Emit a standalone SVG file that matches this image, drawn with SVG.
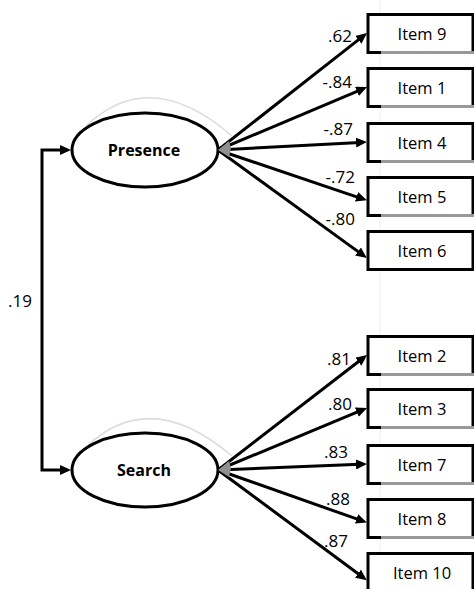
<svg xmlns="http://www.w3.org/2000/svg" width="474" height="589" viewBox="0 0 474 589">
<defs>
<style>
.box{fill:#fff;stroke:#000;stroke-width:3}
.lat{fill:#fff;stroke:#000;stroke-width:3}
.it{font-family:"Open Sans","Liberation Sans",sans-serif;font-size:16.5px;fill:#000;text-anchor:middle}
.lt{font-family:"Open Sans","Liberation Sans",sans-serif;font-size:16px;font-weight:bold;fill:#000;text-anchor:middle}
.lb{font-family:"Open Sans","Liberation Sans",sans-serif;font-size:17px;fill:#000;text-anchor:end}
.arr{fill:none;stroke:#000;stroke-width:3;marker-end:url(#ah)}
.arc{fill:none;stroke:#dcdcdc;stroke-width:1.5}
.gb{stroke:#999;stroke-width:3}
</style>
<marker id="ah" markerUnits="userSpaceOnUse" markerWidth="11" markerHeight="10" refX="4" refY="5" orient="auto-start-reverse">
<path d="M0,0 L11,5 L0,10 Z" fill="#000"/>
</marker>
</defs>
<rect width="474" height="589" fill="#fff"/>
<line x1="380" y1="0" x2="380" y2="589" stroke="#eeeeee" stroke-width="1"/>

<g id="presence">
<path class="arc" d="M86,126 Q150,65 232,136"/>
<ellipse class="lat" cx="145" cy="150" rx="73" ry="37"/>
<text class="lt" x="144" y="155.5">Presence</text>
</g>
<g id="search">
<path class="arc" d="M86,447 Q150,386 232,456"/>
<ellipse class="lat" cx="145" cy="470" rx="73" ry="37"/>
<text class="lt" x="144" y="476">Search</text>
</g>

<g id="item9"><rect class="box" x="368" y="14.5" width="105" height="38"/><line class="gb" x1="381" y1="52.5" x2="474" y2="52.5"/><text class="it" x="422" y="40">Item 9</text></g>
<g id="item1"><rect class="box" x="368" y="68.5" width="105" height="38"/><line class="gb" x1="381" y1="106.5" x2="474" y2="106.5"/><text class="it" x="422" y="94">Item 1</text></g>
<g id="item4"><rect class="box" x="368" y="123.5" width="105" height="38"/><line class="gb" x1="381" y1="161.5" x2="474" y2="161.5"/><text class="it" x="422" y="149">Item 4</text></g>
<g id="item5"><rect class="box" x="368" y="177.5" width="105" height="38"/><line class="gb" x1="381" y1="215.5" x2="474" y2="215.5"/><text class="it" x="422" y="203">Item 5</text></g>
<g id="item6"><rect class="box" x="368" y="231.5" width="105" height="38"/><text class="it" x="422" y="257">Item 6</text></g>

<g id="item2"><rect class="box" x="368" y="336.5" width="105" height="38"/><line class="gb" x1="381" y1="374.5" x2="474" y2="374.5"/><text class="it" x="422" y="362">Item 2</text></g>
<g id="item3"><rect class="box" x="368" y="389.5" width="105" height="38"/><line class="gb" x1="381" y1="427.5" x2="474" y2="427.5"/><text class="it" x="422" y="415">Item 3</text></g>
<g id="item7"><rect class="box" x="368" y="445.5" width="105" height="38"/><line class="gb" x1="381" y1="483.5" x2="474" y2="483.5"/><text class="it" x="422" y="471">Item 7</text></g>
<g id="item8"><rect class="box" x="368" y="499.5" width="105" height="38"/><line class="gb" x1="381" y1="537.5" x2="474" y2="537.5"/><text class="it" x="422" y="525">Item 8</text></g>
<g id="item10"><rect class="box" x="368" y="553.5" width="105" height="40"/><text class="it" x="422" y="579">Item 10</text></g>

<g id="connectors">
<path class="arr" d="M64,150 H42 V470 H64" style="marker-start:url(#ah)"/>
<path class="arr" d="M218,150 L361.5,37.4"/>
<path class="arr" d="M218,150 L360.6,89.8"/>
<path class="arr" d="M218,150 L360,142.4"/>
<path class="arr" d="M218,150 L360.3,198.1"/>
<path class="arr" d="M218,150 L361.2,253.9"/>
<path class="arr" d="M218,470 L361.5,359.3"/>
<path class="arr" d="M218,470 L360.6,410.7"/>
<path class="arr" d="M218,470 L360,464.3"/>
<path class="arr" d="M218,470 L360.3,520.2"/>
<path class="arr" d="M218,470 L361.2,576"/>
<polygon points="218,150 229,141 231,148 229,157" fill="#8f8f8f"/>
<polygon points="218,470 229,461 231,468 229,477" fill="#8f8f8f"/>
<text class="lb" x="352" y="42">.62</text>
<text class="lb" x="352" y="88">-.84</text>
<text class="lb" x="353" y="135">-.87</text>
<text class="lb" x="355" y="183">-.72</text>
<text class="lb" x="355" y="225">-.80</text>
<text class="lb" x="351" y="365">.81</text>
<text class="lb" x="352" y="410">.80</text>
<text class="lb" x="348" y="458">.83</text>
<text class="lb" x="350" y="505">.88</text>
<text class="lb" x="348" y="547">.87</text>
<text class="lb" x="32" y="307">.19</text>
</g>
</svg>
